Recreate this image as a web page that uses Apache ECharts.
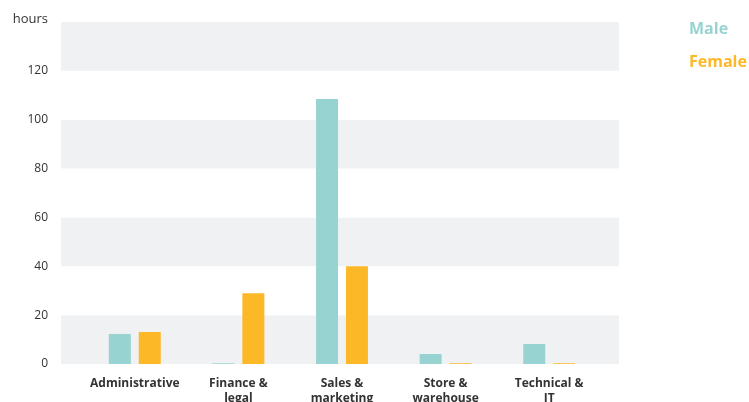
<!DOCTYPE html>
<html><head><meta charset="utf-8">
<script src="https://cdn.jsdelivr.net/npm/echarts@6/dist/echarts.min.js"></script>
<style>html,body{margin:0;padding:0;background:#fff}#c{width:749px;height:402px}</style>
</head><body><div id="c"></div>
<script>
const categories = ['Administrative', 'Finance &\nlegal', 'Sales &\nmarketing', 'Store &\nwarehouse', 'Technical &\nIT'];
const maleValues = [12.3, 0.3, 108.5, 4.1, 8.2];
const femaleValues = [13.1, 29.0, 40.0, 0.3, 0.3];
const yTicks = { min: 0, max: 140, interval: 20 };

const font = '"Open Sans", "Noto Sans", sans-serif';
const chart = echarts.init(document.getElementById('c'));
chart.setOption({
  animation: false,
  textStyle: { fontFamily: font },
  legend: {
    orient: 'vertical', left: 684, top: 16, itemGap: 17,
    itemWidth: 0, itemHeight: 0, icon: 'rect',
    data: [
      { name: 'Male', textStyle: { color: '#97D4D1' } },
      { name: 'Female', textStyle: { color: '#FDB827' } }
    ],
    textStyle: { fontSize: 16, fontWeight: 'bold', fontFamily: font, padding: [0, 0, 0, -5] },
    selectedMode: false
  },
  grid: [
    { left: 83, right: 148, top: 22, bottom: 38, outerBoundsMode: 'none', containLabel: false },
    { left: 61, right: 130, top: 22, bottom: 38, outerBoundsMode: 'none', containLabel: false }
  ],
  xAxis: [
    {
      type: 'category', gridIndex: 0, data: categories,
      axisLine: { show: false }, axisTick: { show: false },
      axisLabel: { color: '#333', fontSize: 12, fontWeight: 'bold', margin: 12, lineHeight: 15, interval: 0, fontFamily: font }
    },
    { type: 'value', gridIndex: 1, min: 0, max: 1, show: false }
  ],
  yAxis: [
    { type: 'value', gridIndex: 0, min: yTicks.min, max: yTicks.max, interval: yTicks.interval, show: false },
    {
      type: 'value', gridIndex: 1, min: yTicks.min, max: yTicks.max, interval: yTicks.interval,
      name: 'hours', nameLocation: 'end', nameGap: -4,
      nameTextStyle: { color: '#333', fontSize: 13, align: 'right', padding: [0, 13, 0, 0], fontFamily: font },
      axisLine: { show: false }, axisTick: { show: false },
      axisLabel: { color: '#333', fontSize: 12, margin: 13, showMaxLabel: false, fontFamily: font },
      splitLine: { show: false },
      splitArea: { show: true, areaStyle: { color: ['#F0F1F3', '#FFFFFF'] } }
    }
  ],
  series: [
    { name: 'Male', type: 'bar', xAxisIndex: 0, yAxisIndex: 0, data: maleValues, barWidth: 22, barGap: '36%', itemStyle: { color: '#97D4D1' } },
    { name: 'Female', type: 'bar', xAxisIndex: 0, yAxisIndex: 0, data: femaleValues, barWidth: 22, barGap: '36%', itemStyle: { color: '#FDB827' } }
  ]
});
</script></body></html>
